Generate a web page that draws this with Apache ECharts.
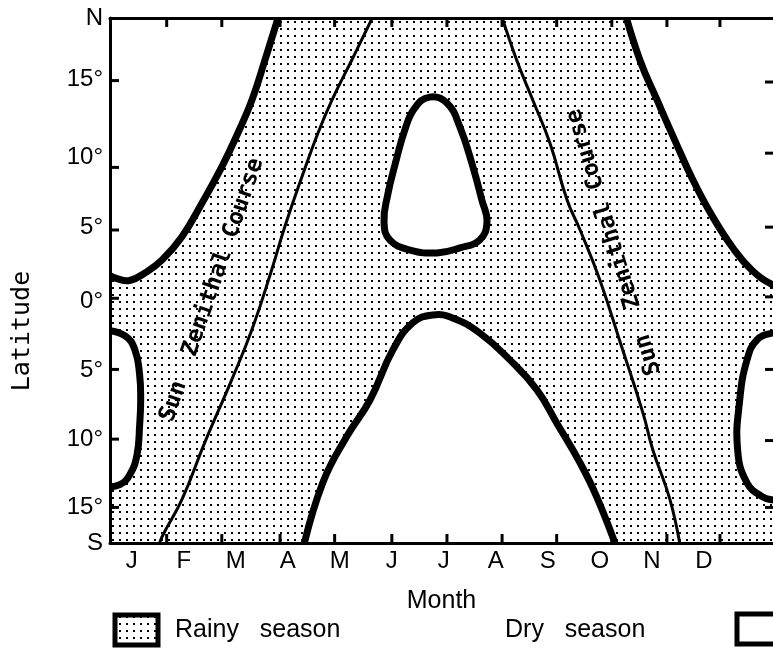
<!DOCTYPE html>
<html>
<head>
<meta charset="utf-8">
<title>Rainy and dry seasons by latitude</title>
<script src="https://cdn.jsdelivr.net/npm/echarts@6/dist/echarts.min.js"></script>
<style>
html, body { margin: 0; padding: 0; background: #fff; }
#main { width: 773px; height: 648px; }
</style>
</head>
<body>
<div id="main"></div>
<script>
// x = month (1 = Jan ... 12 = Dec), y = latitude (+ north, - south)
var monthValues = [1, 2, 3, 4, 5, 6, 7, 8, 9, 10, 11, 12];
var monthLabels = ['J', 'F', 'M', 'A', 'M', 'J', 'J', 'A', 'S', 'O', 'N', 'D'];
var monthTicks = [1.67, 2.73, 3.85, 4.9, 6.0, 7.06, 8.12, 9.17, 10.23, 11.29, 12.31];

var latLabelValues = [19.7, 15.4, 9.9, 5.0, -0.2, -5.1, -9.95, -14.7, -17.2];
var latLabels = ['N', '15°', '10°', '5°', '0°', '5°', '10°', '15°', 'S'];
var latTicksLeft = [15.3, 9.2, 4.8, 0, -5.0, -9.9, -14.7];
var latTicksRight = [15.2, 10.2, 5.0, 0.1, -5, -10, -14.7];

// dry season boundaries, [month, latitude]
var dryNorthWest = [[3.88, 20.5], [3.56, 16.75], [3.31, 13.94], [3.04, 11.62], [2.73, 9.23], [2.35, 6.7],
    [1.96, 4.31], [1.58, 2.69], [1.25, 1.78], [0.96, 1.25], [0.73, 1.36], [0.5, 1.75]];
var dryNorthEast = [[10.45, 20.5], [10.77, 16.75], [11.1, 13.94], [11.44, 11.12], [11.79, 8.31], [12.15, 5.85],
    [12.56, 3.53], [12.92, 1.99], [13.33, 0.93], [13.7, 0.5]];
var drySouthWest = [[0.5, -2.25], [0.87, -2.64], [1.06, -3.63], [1.15, -5.39], [1.17, -7.15], [1.15, -8.9],
    [1.1, -11.0], [0.96, -12.4], [0.77, -13.1], [0.5, -13.25]];
var drySouthEast = [[13.7, -2.3], [13.33, -2.44], [13.02, -2.93], [12.83, -4.33], [12.69, -7.15], [12.65, -10.66],
    [12.83, -12.98], [13.13, -13.96], [13.33, -14.17], [13.7, -14.3]];
var dryCentralSouth = [[4.28, -17.8], [4.67, -12.98], [5.13, -9.73], [5.58, -7.15], [6.02, -3.63], [6.4, -1.73],
    [6.79, -1.17], [7.17, -1.38], [7.69, -2.44], [8.27, -4.33], [8.79, -6.44], [9.17, -8.76], [9.62, -11.57],
    [9.94, -13.96], [10.35, -17.8]];
var dryIsland = [[6.73, 14.14], [7.06, 13.72], [7.31, 12.03], [7.56, 9.23], [7.73, 6.91], [7.83, 5.36],
    [7.69, 4.1], [7.31, 3.54], [6.87, 3.19], [6.35, 3.39], [5.96, 4.1], [5.85, 5.36], [5.92, 7.26],
    [6.06, 9.37], [6.25, 11.83], [6.44, 13.37]];

// sun zenithal course
var sunCourseWest = [[5.69, 20.2], [5.23, 16.75], [4.85, 13.94], [4.58, 11.62], [4.27, 8.53], [3.94, 5.01],
    [3.69, 2.01], [3.31, -2.2], [2.92, -5.73], [2.4, -10.16], [1.96, -14.17], [1.58, -16.77], [1.5, -17.7]];
var sunCourseEast = [[8.08, 20.2], [8.4, 16.75], [8.71, 13.94], [9.04, 10.91], [9.37, 6.91], [9.62, 4.8],
    [10.0, 1.29], [10.42, -3.41], [10.83, -8.07], [11.02, -10.66], [11.35, -14.17], [11.56, -17.7]];

var X_MIN = 0.58, X_MAX = 13.33, Y_MIN = -17.2, Y_MAX = 19.7;

// closing corners lie outside the plot and get clipped
var dryRegions = [
    {curve: dryNorthWest, close: [[-1, 2], [-1, 24], [3.88, 24]]},
    {curve: dryNorthEast, close: [[15, 0.5], [15, 24], [10.45, 24]]},
    {curve: drySouthWest, close: [[-1, -13.25], [-1, -2.25]]},
    {curve: drySouthEast, close: [[15, -14.3], [15, -2.3]]},
    {curve: dryCentralSouth, close: [[10.35, -24], [4.28, -24]]},
    {curve: dryIsland, closed: true}
];
var sunCourses = [sunCourseWest, sunCourseEast];

function makeStipple() {
    var c = document.createElement('canvas');
    c.width = 7;
    c.height = 7;
    var ctx = c.getContext('2d');
    ctx.fillStyle = '#000';
    ctx.fillRect(0, 0, 2, 2);
    return c;
}
var stipple = {image: makeStipple(), repeat: 'repeat'};

function toPixels(api, pts) {
    return pts.map(function (p) { return api.coord(p); });
}

// short inward tick at a data point, dx/dy in pixels
function tick(api, pt, dx, dy) {
    var p = api.coord(pt);
    return {type: 'line', shape: {x1: p[0], y1: p[1], x2: p[0] + dx, y2: p[1] + dy},
        style: {stroke: '#000', lineWidth: 3}};
}

var SMOOTH = 0.45;
var font = '"Liberation Sans", Arial, sans-serif';
var handFont = 'bold 23px "DejaVu Sans Mono", monospace';

var chart = echarts.init(document.getElementById('main'));
chart.setOption({
    backgroundColor: '#fff',
    animation: false,
    grid: {left: 110, right: 0, top: 18, bottom: 105},
    xAxis: [{
        type: 'value', min: X_MIN, max: X_MAX, position: 'bottom', z: 10,
        name: 'Month', nameLocation: 'middle', nameGap: 46,
        nameTextStyle: {fontSize: 25, color: '#000', fontFamily: font},
        axisLine: {onZero: false, lineStyle: {color: '#000', width: 3}},
        axisTick: {show: false},
        axisLabel: {
            customValues: monthValues, margin: 6, fontSize: 24, color: '#000', fontFamily: font,
            formatter: function (v) { return monthLabels[monthValues.indexOf(v)] || ''; }
        },
        splitLine: {show: false}
    }, {
        type: 'value', min: X_MIN, max: X_MAX, position: 'top', z: 10,
        axisLine: {onZero: false, lineStyle: {color: '#000', width: 3}},
        axisTick: {show: false},
        axisLabel: {show: false},
        splitLine: {show: false}
    }],
    yAxis: [{
        type: 'value', min: Y_MIN, max: Y_MAX, position: 'left', z: 10,
        axisLine: {show: true, onZero: false, lineStyle: {color: '#000', width: 3}},
        axisTick: {show: false},
        axisLabel: {
            customValues: latLabelValues, margin: 7, fontSize: 24, color: '#000', fontFamily: font,
            showMinLabel: true, showMaxLabel: true,
            formatter: function (v) { return latLabels[latLabelValues.indexOf(v)] || ''; }
        },
        splitLine: {show: false}
    }],
    graphic: [
        {type: 'text', x: 22, y: 331, rotation: Math.PI / 2,
            style: {text: 'Latitude', font: '25px "DejaVu Sans Mono", monospace', fill: '#000',
                textAlign: 'center', textVerticalAlign: 'middle'}},
        {type: 'text', x: 212, y: 290, rotation: 71 * Math.PI / 180, z: 20,
            style: {text: 'Sun  Zenithal Course', font: handFont, fill: '#000',
                textAlign: 'center', textVerticalAlign: 'middle'}},
        {type: 'text', x: 614, y: 242, rotation: 107 * Math.PI / 180, z: 20,
            style: {text: 'Sun  Zenithal Course', font: handFont, fill: '#000',
                textAlign: 'center', textVerticalAlign: 'middle'}},
        {type: 'rect', shape: {x: 115, y: 615, width: 43, height: 30},
            style: {fill: stipple, stroke: '#000', lineWidth: 5}},
        {type: 'text', x: 175, y: 630,
            style: {text: 'Rainy   season', font: '25px ' + font, fill: '#000', textVerticalAlign: 'middle'}},
        {type: 'text', x: 505, y: 630,
            style: {text: 'Dry   season', font: '25px ' + font, fill: '#000', textVerticalAlign: 'middle'}},
        {type: 'rect', shape: {x: 737, y: 614, width: 50, height: 30},
            style: {fill: '#fff', stroke: '#000', lineWidth: 5}}
    ],
    series: [{
        name: 'Rainy season',
        type: 'custom',
        clip: true,
        z: 1,
        data: [0],
        renderItem: function (params, api) {
            var a = api.coord([X_MIN, Y_MAX]);
            var b = api.coord([X_MAX, Y_MIN]);
            return {type: 'rect', shape: {x: a[0], y: a[1], width: b[0] - a[0], height: b[1] - a[1]},
                style: {fill: stipple}};
        }
    }, {
        name: 'Dry season',
        type: 'custom',
        clip: true,
        z: 3,
        data: dryRegions.map(function (r, i) { return i; }),
        renderItem: function (params, api) {
            var r = dryRegions[params.dataIndex];
            if (r.closed) {
                return {type: 'polygon', shape: {points: toPixels(api, r.curve), smooth: SMOOTH},
                    style: {fill: '#fff', stroke: '#000', lineWidth: 7}};
            }
            return {type: 'group', children: [
                {type: 'polygon', shape: {points: toPixels(api, r.curve.concat(r.close)), smooth: SMOOTH},
                    style: {fill: '#fff'}},
                {type: 'polyline', shape: {points: toPixels(api, r.curve), smooth: SMOOTH},
                    style: {fill: null, stroke: '#000', lineWidth: 7, lineJoin: 'round'}}
            ]};
        }
    }, {
        name: 'Sun zenithal course',
        type: 'custom',
        clip: true,
        z: 4,
        data: sunCourses.map(function (r, i) { return i; }),
        renderItem: function (params, api) {
            return {type: 'polyline', shape: {points: toPixels(api, sunCourses[params.dataIndex]), smooth: SMOOTH},
                style: {fill: null, stroke: '#000', lineWidth: 3}};
        }
    }, {
        name: 'Frame ticks',
        type: 'custom',
        z: 6,
        silent: true,
        data: [0],
        renderItem: function (params, api) {
            var kids = [];
            monthTicks.forEach(function (v) {
                kids.push(tick(api, [v, Y_MIN], 0, -9));
                kids.push(tick(api, [v, Y_MAX], 0, 9));
            });
            latTicksLeft.forEach(function (v) { kids.push(tick(api, [X_MIN, v], 9, 0)); });
            latTicksRight.forEach(function (v) { kids.push(tick(api, [X_MAX, v], -8, 0)); });
            return {type: 'group', children: kids};
        }
    }]
});
</script>
</body>
</html>
